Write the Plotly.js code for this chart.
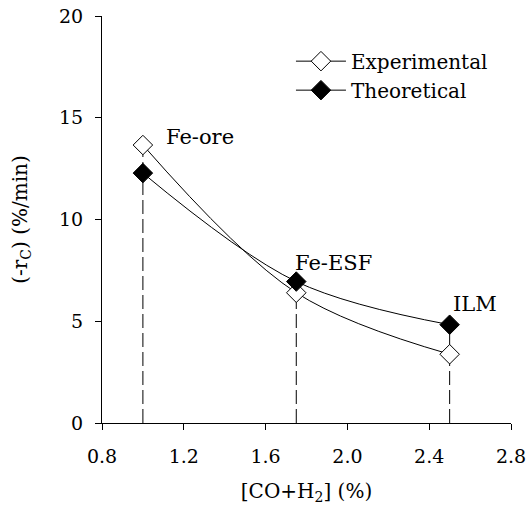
<!DOCTYPE html>
<html>
<head>
<meta charset="utf-8">
<script src="https://cdn.plot.ly/plotly-3.0.1.min.js"></script>
<style>html,body{margin:0;padding:0;background:#fff;}#chart{width:531px;height:517px;}</style>
</head>
<body>
<div id="chart"></div>
<script>
// Data
const categories = ["Fe-ore", "Fe-ESF", "ILM"];
const xValues = [1.0, 1.75, 2.5];
const experimental = [13.66, 6.40, 3.38];
const theoretical = [12.28, 6.95, 4.83];
const labelX = [1.103, 1.732, 2.507];
const labelY = [14.05, 7.86, 5.85];
const xTicks = [0.8, 1.2, 1.6, 2.0, 2.4, 2.8];
const yTicks = [0, 5, 10, 15, 20];

const FONT = "DejaVu Serif";
const traces = [];

// vertical dashed drop lines from the highest point down to the x axis
xValues.forEach((x, i) => {
  traces.push({
    x: [x, x], y: [0, Math.max(experimental[i], theoretical[i])],
    mode: "lines", showlegend: false, hoverinfo: "skip",
    line: {color: "#000", width: 1, dash: "14px,5px"}
  });
});

traces.push({
  name: "Experimental", x: xValues, y: experimental, mode: "lines+markers",
  line: {color: "#000", width: 1, shape: "spline", smoothing: 1},
  marker: {symbol: "diamond", size: 15, color: "#fff", line: {color: "#000", width: 1}}
});
traces.push({
  name: "Theoretical", x: xValues, y: theoretical, mode: "lines+markers",
  line: {color: "#000", width: 1, shape: "spline", smoothing: 1},
  marker: {symbol: "diamond", size: 15, color: "#000", line: {color: "#000", width: 1}}
});

const annotations = categories.map((c, i) => ({
  x: labelX[i], y: labelY[i], xref: "x", yref: "y", text: c, showarrow: false,
  xanchor: "left", yanchor: "middle", font: {family: FONT, size: 21, color: "#000"}
}));

const layout = {
  width: 531, height: 517,
  margin: {l: 102, r: 20, t: 16, b: 94},
  paper_bgcolor: "#fff", plot_bgcolor: "#fff",
  font: {family: FONT, size: 20, color: "#000"},
  showlegend: true,
  legend: {
    x: 0.462, y: 0.937, xanchor: "left", yanchor: "top",
    bgcolor: "rgba(0,0,0,0)", font: {family: FONT, size: 20, color: "#000"},
    itemwidth: 50, tracegroupgap: 0
  },
  xaxis: {
    range: [0.8, 2.8], tickvals: xTicks, ticktext: xTicks.map(v => v.toFixed(1)),
    showgrid: false, zeroline: false, showline: true, linecolor: "#000", linewidth: 1,
    ticks: "outside", ticklen: 6, tickcolor: "#000", tickwidth: 1, ticklabelstandoff: 10,
    tickfont: {family: FONT, size: 19, color: "#000"},
    title: {text: "[CO+H<sub>2</sub>] (%)", font: {family: FONT, size: 20, color: "#000"}, standoff: 18}
  },
  yaxis: {
    range: [0, 20], tickvals: yTicks, ticktext: yTicks.map(String),
    showgrid: false, zeroline: false, showline: true, linecolor: "#000", linewidth: 1,
    ticks: "outside", ticklen: 6, tickcolor: "#000", tickwidth: 1, ticklabelstandoff: 8,
    tickfont: {family: FONT, size: 19, color: "#000"},
    title: {text: "(-r<sub>C</sub>) (%/min)", font: {family: FONT, size: 20, color: "#000"}, standoff: 26}
  },
  annotations: annotations
};

Plotly.newPlot("chart", traces, layout, {displayModeBar: false, staticPlot: true});
</script>
</body>
</html>
